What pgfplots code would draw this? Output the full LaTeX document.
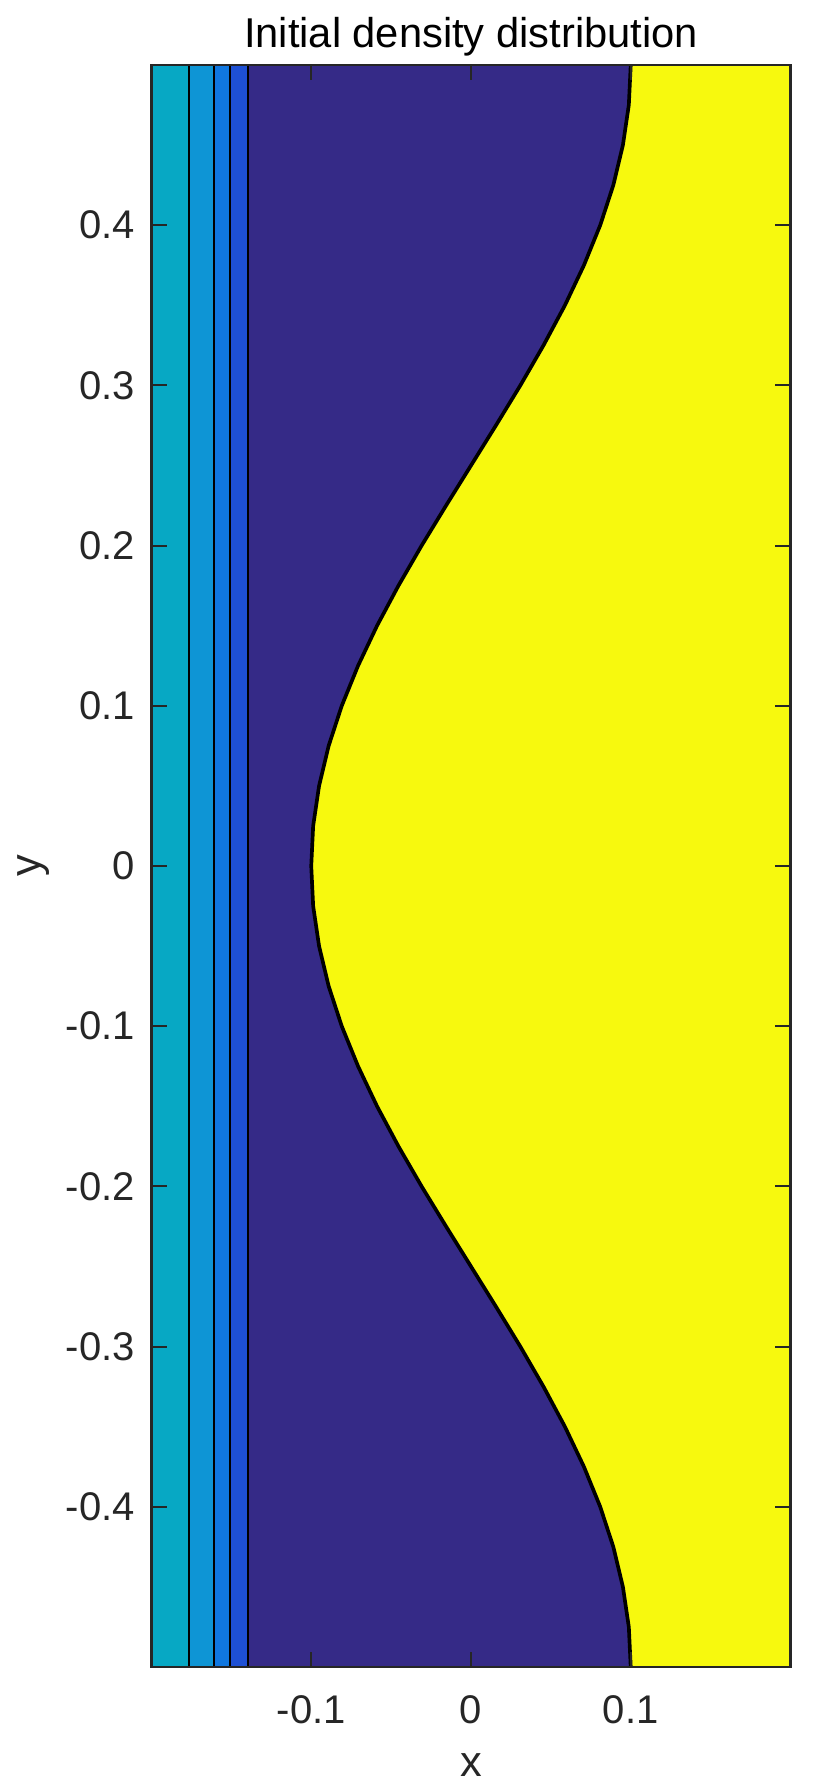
\documentclass[border=0pt]{standalone}
\usepackage{fontspec}
\setmainfont{Liberation Sans}
\usepackage{pgfplots}
\pgfplotsset{compat=1.18}
\usetikzlibrary{calc}

\definecolor{pteal}{RGB}{7,168,196}
\definecolor{pblueA}{RGB}{14,149,213}
\definecolor{pblueB}{RGB}{16,119,224}
\definecolor{pblueC}{RGB}{30,80,212}
\definecolor{pnavy}{RGB}{53,42,135}
\definecolor{pyellow}{RGB}{247,249,14}
\definecolor{axgray}{RGB}{38,38,38}

\begin{document}
\begin{tikzpicture}
\begin{axis}[
  name=ax,
  scale only axis,
  width=191.7pt,height=480.6pt,
  xmin=-0.2,xmax=0.2,ymin=-0.5,ymax=0.5,
  axis on top,
  xtick={-0.1,0,0.1},
  ytick={-0.4,-0.3,-0.2,-0.1,0,0.1,0.2,0.3,0.4},
  tick align=inside,
  major tick length=4.6pt,
  tick style={axgray,line width=0.6pt},
  axis line style={axgray,line width=0.8pt},
  /pgf/number format/assume math mode=true,
  ticklabel style={font=\fontsize{12}{14}\selectfont,text=axgray},
  yticklabel style={xshift=-1.5pt},
  xticklabel style={yshift=-5pt},
  every axis title shift=0pt,
  title={Initial density distribution},
  title style={font=\fontsize{12.5}{15}\selectfont,at={(axis description cs:0.5,1)},anchor=base,yshift=5.3pt},
  xlabel={x},ylabel={y},
  label style={font=\fontsize{13}{15}\selectfont,text=axgray},
  xlabel style={at={(axis description cs:0.5,-0.061)},anchor=center},
  ylabel style={at={(axis description cs:-0.185,0.5)},anchor=center},
]
% bands on the left
\addplot[fill=pteal,draw=none] coordinates {(-0.2,-0.5)(-0.1765,-0.5)(-0.1765,0.5)(-0.2,0.5)};
\addplot[fill=pblueA,draw=none] coordinates {(-0.1765,-0.5)(-0.161,-0.5)(-0.161,0.5)(-0.1765,0.5)};
\addplot[fill=pblueB,draw=none] coordinates {(-0.161,-0.5)(-0.151,-0.5)(-0.151,0.5)(-0.161,0.5)};
\addplot[fill=pblueC,draw=none] coordinates {(-0.151,-0.5)(-0.1393,-0.5)(-0.1393,0.5)(-0.151,0.5)};
\addplot[fill=pnavy,draw=none] coordinates {(-0.1393,-0.5)(0.2,-0.5)(0.2,0.5)(-0.1393,0.5)};
% heavy fluid region
\addplot[fill=pyellow,draw=none] coordinates {
(0.2,-0.5)(0.1,-0.5)(0.0988,-0.475)(0.0951,-0.45)(0.0891,-0.425)(0.0809,-0.4)(0.0707,-0.375)
(0.0588,-0.35)(0.0454,-0.325)(0.0309,-0.3)(0.0156,-0.275)(0,-0.25)(-0.0156,-0.225)(-0.0309,-0.2)
(-0.0454,-0.175)(-0.0588,-0.15)(-0.0707,-0.125)(-0.0809,-0.1)(-0.0891,-0.075)(-0.0951,-0.05)
(-0.0988,-0.025)(-0.1,0)(-0.0988,0.025)(-0.0951,0.05)(-0.0891,0.075)(-0.0809,0.1)(-0.0707,0.125)
(-0.0588,0.15)(-0.0454,0.175)(-0.0309,0.2)(-0.0156,0.225)(0,0.25)(0.0156,0.275)(0.0309,0.3)
(0.0454,0.325)(0.0588,0.35)(0.0707,0.375)(0.0809,0.4)(0.0891,0.425)(0.0951,0.45)(0.0988,0.475)
(0.1,0.5)(0.2,0.5)};
% contour lines
\addplot[black,line width=0.6pt] coordinates {(-0.1765,-0.5)(-0.1765,0.5)};
\addplot[black,line width=0.6pt] coordinates {(-0.161,-0.5)(-0.161,0.5)};
\addplot[black,line width=0.6pt] coordinates {(-0.151,-0.5)(-0.151,0.5)};
\addplot[black,line width=0.6pt] coordinates {(-0.1393,-0.5)(-0.1393,0.5)};
\addplot[black,line width=1.1pt] coordinates {
(0.1,-0.5)(0.0988,-0.475)(0.0951,-0.45)(0.0891,-0.425)(0.0809,-0.4)(0.0707,-0.375)
(0.0588,-0.35)(0.0454,-0.325)(0.0309,-0.3)(0.0156,-0.275)(0,-0.25)(-0.0156,-0.225)(-0.0309,-0.2)
(-0.0454,-0.175)(-0.0588,-0.15)(-0.0707,-0.125)(-0.0809,-0.1)(-0.0891,-0.075)(-0.0951,-0.05)
(-0.0988,-0.025)(-0.1,0)(-0.0988,0.025)(-0.0951,0.05)(-0.0891,0.075)(-0.0809,0.1)(-0.0707,0.125)
(-0.0588,0.15)(-0.0454,0.175)(-0.0309,0.2)(-0.0156,0.225)(0,0.25)(0.0156,0.275)(0.0309,0.3)
(0.0454,0.325)(0.0588,0.35)(0.0707,0.375)(0.0809,0.4)(0.0891,0.425)(0.0951,0.45)(0.0988,0.475)
(0.1,0.5)};
\end{axis}
\pgfresetboundingbox
\path[use as bounding box] ($(ax.south west)+(-45.45pt,-35.1pt)$) rectangle ($(ax.north east)+(11.7pt,19.5pt)$);
\end{tikzpicture}
\end{document}
